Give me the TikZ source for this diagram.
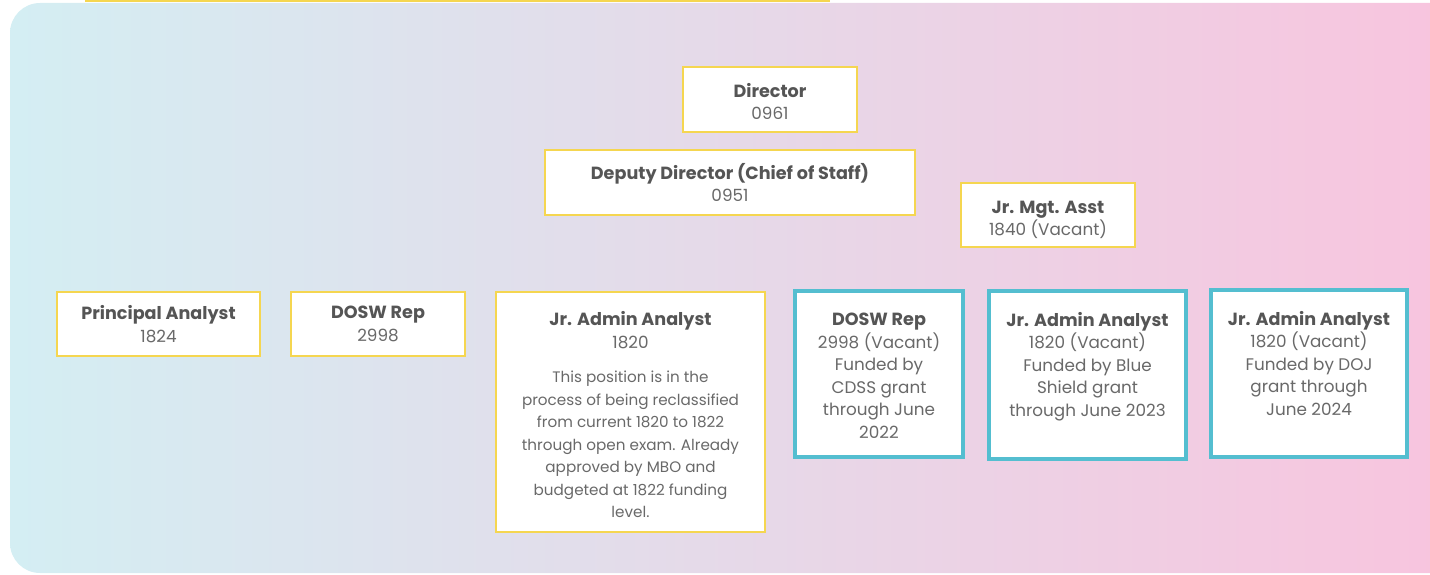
\documentclass[tikz,border=0pt]{standalone}
\usepackage{fontspec}
\setmainfont{Poppins}
\definecolor{yel}{RGB}{245,214,80}
\definecolor{blu}{RGB}{84,190,208}
\definecolor{bgl}{RGB}{212,238,243}
\definecolor{bgm}{RGB}{233,229,236}
\definecolor{bgr}{RGB}{248,196,222}
\definecolor{ttl}{RGB}{85,85,85}
\definecolor{bdy}{RGB}{105,105,105}
\tikzset{
  ybox/.style={draw=yel, line width=2.6pt, fill=white, inner sep=0pt},
  bbox/.style={draw=blu, line width=4pt, fill=white, inner sep=0pt},
  txt/.style={align=center, inner sep=0pt, text=bdy, font=\fontsize{16.8}{22.5}\selectfont},
  smalltxt/.style={align=center, inner sep=0pt, text=bdy, font=\fontsize{15.2}{22.5}\selectfont},
}
\newcommand{\ttlx}[1]{{\color{ttl}\bfseries\fontsize{17.6}{22.5}\selectfont #1}}
\begin{document}
\begin{tikzpicture}[x=1pt,y=-1pt]
\useasboundingbox (0,0) rectangle (1430,575);
\shade[left color=bgl, middle color=bgm, right color=bgr, rounded corners=30pt] (10,3) rectangle (1460,573);
\draw[yel, line width=3pt] (85,0.5) -- (830,0.5);

% boxes
\node[ybox, minimum width=174pt, minimum height=65pt] (dir) at (770,99.5) {};
\node[ybox, minimum width=370pt, minimum height=65pt] (dep) at (730,182.5) {};
\node[ybox, minimum width=174pt, minimum height=64pt] (jma) at (1048,215) {};
\node[ybox, minimum width=203pt, minimum height=64pt] (pa) at (158.5,324) {};
\node[ybox, minimum width=174pt, minimum height=64pt] (dosw) at (378,324) {};
\node[ybox, minimum width=269pt, minimum height=240pt] (jaa) at (630.5,412) {};
\node[bbox, minimum width=168pt, minimum height=166pt] (dosw2) at (879,374) {};
\node[bbox, minimum width=197pt, minimum height=168pt] (jaa2) at (1087.5,375) {};
\node[bbox, minimum width=196pt, minimum height=167pt] (jaa3) at (1309,373.5) {};

% texts
\node[txt] (tdir) at ([yshift=-2pt]dir.center) {\ttlx{Director}\\0961};
\node[txt] (tdep) at (dep.center) {\ttlx{Deputy Director (Chief of Staff)}\\0951};
\node[txt] (tjma) at ([yshift=-5pt]jma.center) {\ttlx{Jr. Mgt. Asst}\\1840 (Vacant)};
\node[txt] (tpa) at (pa.center) {\ttlx{Principal Analyst}\\1824};
\node[txt] (tdosw) at (dosw.center) {\ttlx{DOSW Rep}\\2998};
\node[txt, anchor=north] (tjaa) at ([yshift=-21pt]jaa.north) {\ttlx{Jr. Admin Analyst}\\1820};
\node[smalltxt, anchor=north] (tjaab) at ([yshift=-22pt]tjaa.south) {This position is in the\\process of being reclassified\\from current 1820 to 1822\\through open exam. Already\\approved by MBO and\\budgeted at 1822 funding\\level.};
\node[txt, anchor=north] (tdosw2) at ([yshift=-24pt]dosw2.north) {\ttlx{DOSW Rep}\\2998 (Vacant)\\Funded by\\CDSS grant\\through June\\2022};
\node[txt, anchor=north] (tjaa2) at ([yshift=-23pt]jaa2.north) {\ttlx{Jr. Admin Analyst}\\1820 (Vacant)\\Funded by Blue\\Shield grant\\through June 2023};
\node[txt, anchor=north] (tjaa3) at ([yshift=-23pt]jaa3.north) {\ttlx{Jr. Admin Analyst}\\1820 (Vacant)\\Funded by DOJ\\grant through\\June 2024};
\end{tikzpicture}
\end{document}
